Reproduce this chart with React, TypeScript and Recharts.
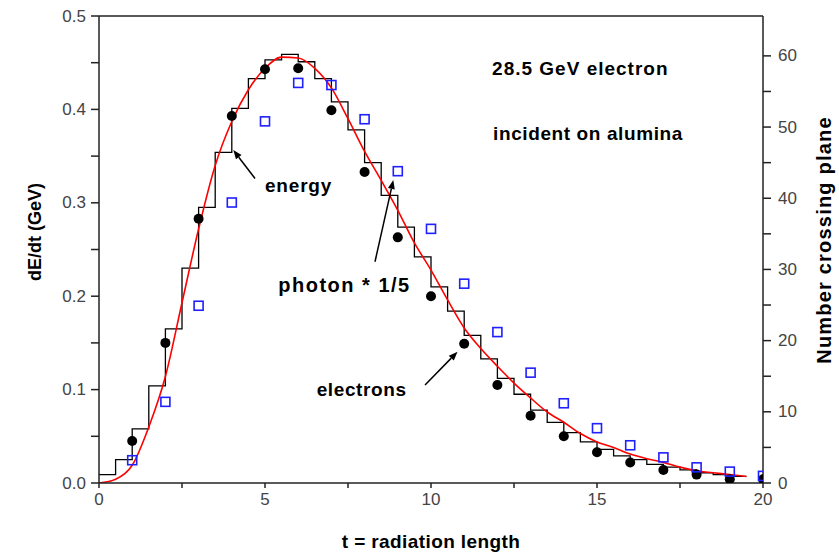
import React from 'react';
import { ComposedChart, Line, Scatter, XAxis, YAxis, ReferenceLine, ReferenceDot, Label } from 'recharts';

// ---- data ----
const histEdges = [0, 0.5, 1, 1.5, 2, 2.5, 3, 3.5, 4, 4.5, 5, 5.5, 6, 6.5, 7, 7.5, 8, 8.5, 9, 9.5, 10, 10.5, 11, 11.5, 12, 12.5, 13, 13.5, 14, 14.5, 15, 15.5, 16, 16.5, 17, 17.5, 18, 18.5, 19, 19.5];
const histValues = [0.009, 0.025, 0.058, 0.104, 0.165, 0.230, 0.295, 0.354, 0.401, 0.433, 0.453, 0.459, 0.451, 0.433, 0.408, 0.378, 0.343, 0.308, 0.274, 0.242, 0.210, 0.184, 0.158, 0.133, 0.112, 0.095, 0.078, 0.065, 0.054, 0.044, 0.036, 0.029, 0.025, 0.020, 0.017, 0.014, 0.011, 0.009, 0.007];

const fitT = [0, 0.5, 1, 1.5, 2, 2.5, 3, 3.5, 4, 4.5, 5, 5.5, 6, 6.5, 7, 7.5, 8, 8.5, 9, 9.5, 10, 10.5, 11, 11.5, 12, 12.5, 13, 13.5, 14, 14.5, 15, 15.5, 16, 16.5, 17, 17.5, 18, 18.5, 19, 19.5];
const fitE = [0, 0.004, 0.019, 0.060, 0.114, 0.193, 0.272, 0.340, 0.387, 0.421, 0.444, 0.456, 0.455, 0.444, 0.423, 0.390, 0.355, 0.324, 0.292, 0.257, 0.228, 0.196, 0.166, 0.144, 0.125, 0.107, 0.091, 0.076, 0.065, 0.053, 0.044, 0.038, 0.031, 0.026, 0.022, 0.017, 0.013, 0.011, 0.009, 0.007];

const sampleT = [1, 2, 3, 4, 5, 6, 7, 8, 9, 10, 11, 12, 13, 14, 15, 16, 17, 18, 19, 20];
const electronE = [0.045, 0.150, 0.283, 0.393, 0.443, 0.444, 0.399, 0.333, 0.263, 0.200, 0.149, 0.105, 0.072, 0.050, 0.033, 0.022, 0.014, 0.009, 0.004, 0.004];
const photonN = [3.2, 11.4, 24.9, 39.4, 50.8, 56.2, 55.9, 51.1, 43.8, 35.7, 28.0, 21.2, 15.5, 11.2, 7.7, 5.3, 3.6, 2.2, 1.6, 1.0];

const xTicks = [0, 2.5, 5, 7.5, 10, 12.5, 15, 17.5, 20];
const leftTicks = [0, 0.05, 0.1, 0.15, 0.2, 0.25, 0.3, 0.35, 0.4, 0.45, 0.5];
const rightTicks = [0, 5, 10, 15, 20, 25, 30, 35, 40, 45, 50, 55, 60];

const titleX = 't  = radiation length';
const titleLeft = 'dE/dt  (GeV)';
const titleRight = 'Number  crossing plane';
const note1 = '28.5 GeV electron';
const note2 = 'incident on alumina';
const labelEnergy = 'energy';
const labelPhoton = 'photon * 1/5';
const labelElectrons = 'electrons';

// ---- derived tables ----
const histData = histEdges.map((t, i) => ({ t, v: i < histValues.length ? histValues[i] : histValues[histValues.length - 1] }));
const fitData = fitT.map((t, i) => ({ t, v: fitE[i] }));
const electronData = sampleT.map((t, i) => ({ t, v: electronE[i] }));
const photonData = sampleT.map((t, i) => ({ t, v: photonN[i] }));

const FONT = '"Liberation Sans", Arial, sans-serif';
const TICK_COLOR = '#444';
const AXIS_COLOR = '#222';

const isMult = (v: number, m: number) => Math.abs(v / m - Math.round(v / m)) < 1e-6;

const LeftTick = (p: any) => {
  const v = p.payload.value;
  if (!isMult(v, 0.1)) return <g />;
  return (
    <text x={p.x} y={p.y} textAnchor="end" dominantBaseline="central" fontSize={17} fill={TICK_COLOR} fontFamily={FONT}>
      {v.toFixed(1)}
    </text>
  );
};

const RightTick = (p: any) => {
  const v = p.payload.value;
  if (!isMult(v, 10)) return <g />;
  return (
    <text x={p.x} y={p.y} textAnchor="start" dominantBaseline="central" fontSize={17} fill={TICK_COLOR} fontFamily={FONT}>
      {String(v)}
    </text>
  );
};

const BottomTick = (p: any) => {
  const v = p.payload.value;
  if (!isMult(v, 5)) return <g />;
  return (
    <text x={p.x} y={p.y} dy="0.71em" textAnchor="middle" fontSize={17} fill={TICK_COLOR} fontFamily={FONT}>
      {String(v)}
    </text>
  );
};

const Circle = (p: any) => <circle cx={p.cx} cy={p.cy} r={5} fill="#000" />;
const Square = (p: any) => (
  <rect x={p.cx - 4.5} y={p.cy - 4.5} width={9} height={9} fill="none" stroke="#1f1fff" strokeWidth={1.6} />
);

const noteText = (text: string, size: number, spacing: number) => (p: any) => (
  <text x={p.cx} y={p.cy} textAnchor="start" dominantBaseline="central" fontSize={size} fontWeight="bold" letterSpacing={spacing} fill="#000" fontFamily={FONT}>
    {text}
  </text>
);

const Arrow = (p: any) => {
  const { x1, y1, x2, y2 } = p;
  const dx = x2 - x1;
  const dy = y2 - y1;
  const len = Math.sqrt(dx * dx + dy * dy) || 1;
  const ux = dx / len;
  const uy = dy / len;
  const hl = 9;
  const hw = 3.5;
  const bx = x2 - ux * hl;
  const by = y2 - uy * hl;
  const pts = `${x2},${y2} ${bx - uy * hw},${by + ux * hw} ${bx + uy * hw},${by - ux * hw}`;
  return (
    <g>
      <line x1={x1} y1={y1} x2={bx} y2={by} stroke="#000" strokeWidth={1.5} />
      <polygon points={pts} fill="#000" />
    </g>
  );
};

export default function App() {
  return (
    <div style={{ width: 839, height: 555, background: '#fff' }}>
      <style>{'body{margin:0;background:#fff;}'}</style>
      <ComposedChart width={839} height={555} margin={{ top: 16, right: 0, bottom: 0, left: 0 }} style={{ fontFamily: FONT }}>
        <XAxis
          dataKey="t"
          type="number"
          domain={[0, 20]}
          ticks={xTicks}
          interval={0}
          height={72}
          tickSize={5}
          tickMargin={5}
          tick={<BottomTick />}
          stroke={AXIS_COLOR}
          strokeWidth={1.5}
          allowDataOverflow
        >
          <Label
            content={() => (
              <text x={431} y={541} textAnchor="middle" dominantBaseline="central" fontSize={19} fontWeight="bold" letterSpacing={0.4} fill="#000" fontFamily={FONT}>
                {titleX}
              </text>
            )}
          />
        </XAxis>
        <YAxis
          yAxisId="left"
          type="number"
          domain={[0, 0.5]}
          ticks={leftTicks}
          interval={0}
          width={99}
          tickSize={8}
          tickMargin={5}
          tick={<LeftTick />}
          stroke={AXIS_COLOR}
          strokeWidth={1.5}
          allowDataOverflow
        >
          <Label
            content={() => (
              <text x={35} y={232} transform="rotate(-90 35 232)" textAnchor="middle" dominantBaseline="central" fontSize={18} fontWeight="bold" fill="#000" fontFamily={FONT}>
                {titleLeft}
              </text>
            )}
          />
        </YAxis>
        <YAxis
          yAxisId="right"
          orientation="right"
          type="number"
          domain={[0, 65.6]}
          ticks={rightTicks}
          interval={0}
          width={76}
          tickSize={8}
          tickMargin={7}
          tick={<RightTick />}
          stroke={AXIS_COLOR}
          strokeWidth={1.5}
          allowDataOverflow
        >
          <Label
            content={() => (
              <text x={824} y={240} transform="rotate(-90 824 240)" textAnchor="middle" dominantBaseline="central" fontSize={20} fontWeight="bold" letterSpacing={1.2} fill="#000" fontFamily={FONT}>
                {titleRight}
              </text>
            )}
          />
        </YAxis>

        <ReferenceLine yAxisId="left" y={0.5} stroke={AXIS_COLOR} strokeWidth={1.5} />

        <Line yAxisId="left" data={histData} dataKey="v" type="stepAfter" stroke="#000" strokeWidth={1.3} dot={false} isAnimationActive={false} />
        <Line yAxisId="left" data={fitData} dataKey="v" type="monotone" stroke="#ff0000" strokeWidth={1.6} dot={false} isAnimationActive={false} />
        <Scatter yAxisId="left" data={electronData} dataKey="v" shape={<Circle />} isAnimationActive={false} />
        <Scatter yAxisId="right" data={photonData} dataKey="v" shape={<Square />} isAnimationActive={false} />

        <ReferenceLine yAxisId="left" segment={[{ x: 4.70, y: 0.326 }, { x: 4.045, y: 0.3565 }]} shape={<Arrow />} ifOverflow="visible" />
        <ReferenceLine yAxisId="left" segment={[{ x: 8.313, y: 0.2369 }, { x: 8.865, y: 0.3244 }]} shape={<Arrow />} ifOverflow="visible" />
        <ReferenceLine yAxisId="left" segment={[{ x: 9.82, y: 0.1049 }, { x: 10.80, y: 0.1406 }]} shape={<Arrow />} ifOverflow="visible" />

        <ReferenceDot yAxisId="left" x={11.84} y={0.444} shape={noteText(note1, 19, 1)} ifOverflow="visible" />
        <ReferenceDot yAxisId="left" x={11.87} y={0.3747} shape={noteText(note2, 19, 0.6)} ifOverflow="visible" />
        <ReferenceDot yAxisId="left" x={5.0} y={0.319} shape={noteText(labelEnergy, 19, 0.8)} ifOverflow="visible" />
        <ReferenceDot yAxisId="left" x={5.40} y={0.212} shape={noteText(labelPhoton, 20, 1.5)} ifOverflow="visible" />
        <ReferenceDot yAxisId="left" x={6.557} y={0.0996} shape={noteText(labelElectrons, 19, 0.6)} ifOverflow="visible" />
      </ComposedChart>
    </div>
  );
}
